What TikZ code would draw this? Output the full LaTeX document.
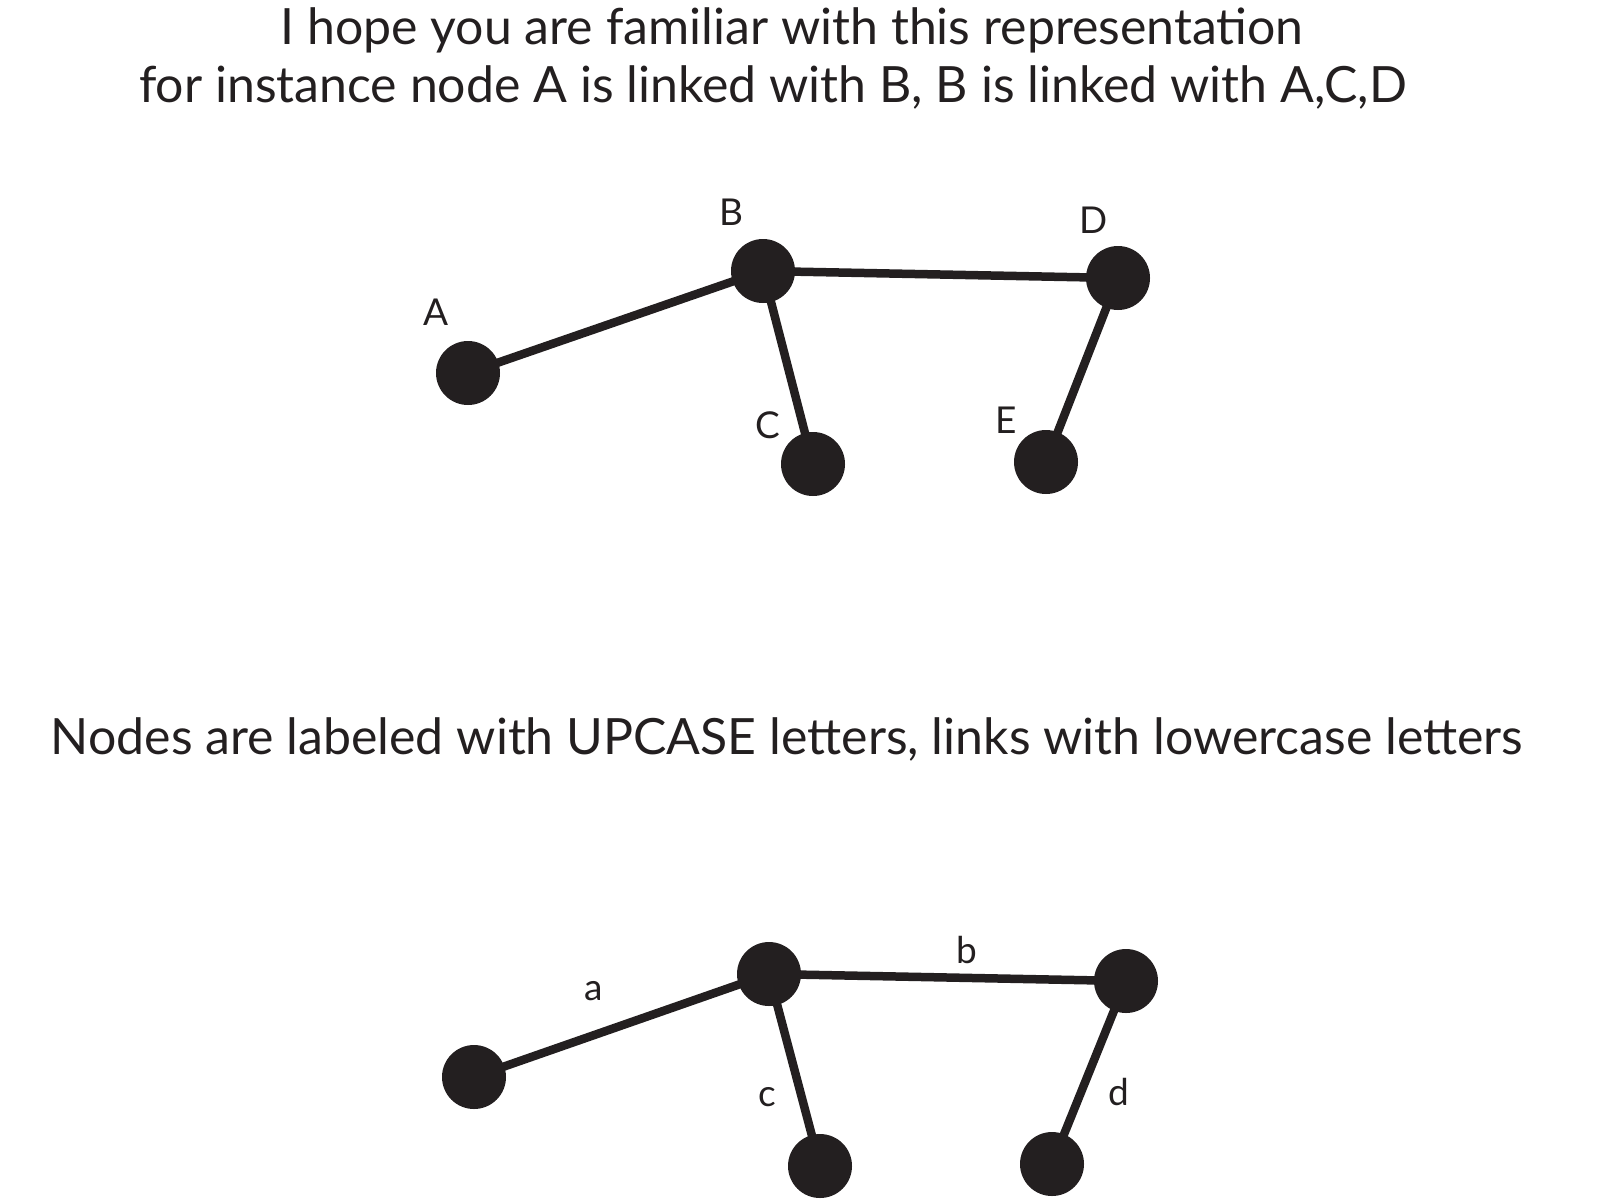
\documentclass[tikz,border=0pt]{standalone}
\usepackage{fontspec}
\setmainfont{Lato}
\definecolor{ink}{HTML}{231F20}
\begin{document}
\begin{tikzpicture}[x=1pt,y=-1pt,
  vert/.style={circle,fill=ink,minimum size=64pt,inner sep=0pt},
  link/.style={draw=ink,line width=8.5pt},
  lbl/.style={font=\fontsize{37}{44}\selectfont,text=ink,inner sep=0pt},
  headline/.style={font=\fontsize{50}{60}\selectfont,text=ink,inner sep=0pt,anchor=base}]
\useasboundingbox (0,0) rectangle (1600,1200);
% headings
\node[headline] (h1) at (792,44) {I hope you are familiar with this representation};
\node[headline] (h1b) at (773,102) {for instance node A is linked with B, B is linked with A,C,D};
\node[headline] (h2) at (787,754) {Nodes are labeled with UPCASE letters, links with lowercase letters};
% top graph
\node[vert] (A) at (468,373) {};
\node[vert] (B) at (763,271) {};
\node[vert] (C) at (813,464) {};
\node[vert] (D) at (1118,278) {};
\node[vert] (E) at (1046,462) {};
\draw[link] (A.center) -- (B.center);
\draw[link] (B.center) -- (C.center);
\draw[link] (B.center) -- (D.center);
\draw[link] (D.center) -- (E.center);
\node[lbl] (lA) at (436,312) {A};
\node[lbl] (lB) at (731,212) {B};
\node[lbl] (lC) at (768,425) {C};
\node[lbl] (lD) at (1094,220) {D};
\node[lbl] (lE) at (1006,420) {E};
% bottom graph
\node[vert] (A2) at (474,1077) {};
\node[vert] (B2) at (769,974) {};
\node[vert] (C2) at (820,1166) {};
\node[vert] (D2) at (1126,981) {};
\node[vert] (E2) at (1052,1164) {};
\draw[link] (A2.center) -- (B2.center);
\draw[link] (B2.center) -- (C2.center);
\draw[link] (B2.center) -- (D2.center);
\draw[link] (D2.center) -- (E2.center);
\node[lbl] (la) at (594,991) {a};
\node[lbl] (lb) at (967,950) {b};
\node[lbl] (lc) at (767,1097) {c};
\node[lbl] (ld) at (1119,1092) {d};
\end{tikzpicture}
\end{document}
